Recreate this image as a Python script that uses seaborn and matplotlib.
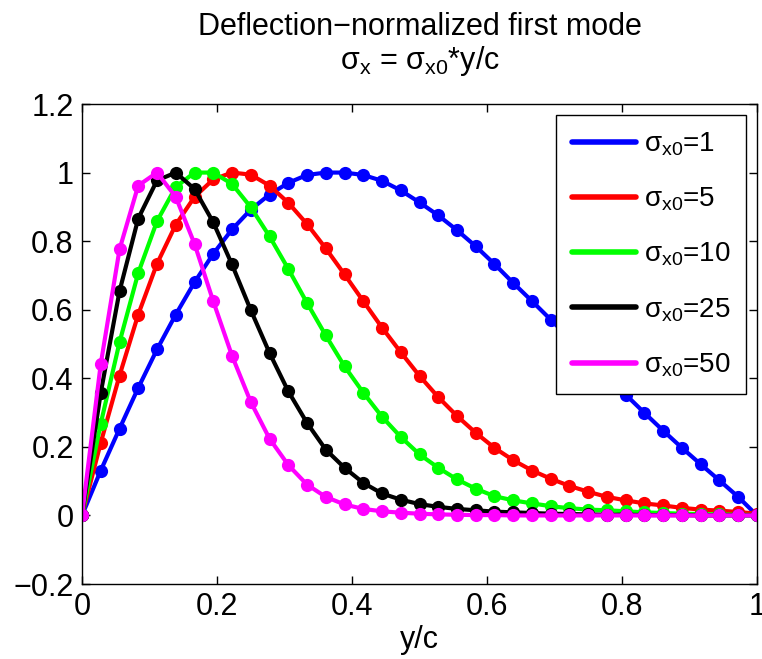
import matplotlib
matplotlib.use("Agg")
import matplotlib.pyplot as plt
import seaborn as sns
import pandas as pd
from matplotlib.ticker import FuncFormatter, MultipleLocator

# ---- data ----
y_c = [0, 0.0278, 0.0556, 0.0833, 0.1111, 0.1389, 0.1667, 0.1944, 0.2222, 0.25,
       0.2778, 0.3056, 0.3333, 0.3611, 0.3889, 0.4167, 0.4444, 0.4722, 0.5, 0.5278,
       0.5556, 0.5833, 0.6111, 0.6389, 0.6667, 0.6944, 0.7222, 0.75, 0.7778, 0.8056,
       0.8333, 0.8611, 0.8889, 0.9167, 0.9444, 0.9722, 1.0]

mode_s1 = [0, 0.131, 0.253, 0.372, 0.484, 0.586, 0.680, 0.763, 0.834, 0.892, 0.936, 0.970,
           0.993, 1.0, 1.0, 0.993, 0.976, 0.948, 0.913, 0.875, 0.832, 0.785, 0.733, 0.678,
           0.625, 0.571, 0.517, 0.462, 0.407, 0.352, 0.299, 0.247, 0.197, 0.149, 0.102, 0.054, 0.0]
mode_s5 = [0, 0.212, 0.408, 0.586, 0.734, 0.848, 0.929, 0.980, 1.0, 0.994, 0.962, 0.912,
           0.850, 0.779, 0.703, 0.625, 0.548, 0.476, 0.407, 0.345, 0.290, 0.241, 0.197, 0.161,
           0.131, 0.107, 0.086, 0.069, 0.054, 0.044, 0.035, 0.029, 0.022, 0.017, 0.014, 0.010, 0.005]
mode_s10 = [0, 0.268, 0.505, 0.707, 0.858, 0.958, 1.0, 1.0, 0.967, 0.899, 0.814, 0.719,
            0.620, 0.525, 0.435, 0.358, 0.288, 0.229, 0.178, 0.139, 0.105, 0.078, 0.056, 0.044,
            0.035, 0.027, 0.021, 0.017, 0.015, 0.012, 0.009, 0.007, 0.005, 0.004, 0.003, 0.002, 0.001]
mode_s25 = [0, 0.358, 0.654, 0.866, 0.977, 1.0, 0.952, 0.855, 0.732, 0.599, 0.474, 0.362,
            0.270, 0.192, 0.139, 0.095, 0.064, 0.046, 0.033, 0.025, 0.019, 0.015, 0.011, 0.009,
            0.007, 0.005, 0.004, 0.003, 0.002, 0.002, 0.001, 0.001, 0.001, 0, 0, 0, 0]
mode_s50 = [0, 0.442, 0.776, 0.962, 1.0, 0.929, 0.792, 0.625, 0.466, 0.331, 0.224, 0.147,
            0.090, 0.054, 0.032, 0.019, 0.012, 0.008, 0.005, 0.003, 0.002, 0.001, 0.001, 0,
            0, 0, 0, 0, 0, 0, 0, 0, 0, 0, 0, 0, 0]

labels = [r"$\sigma_{x0}$=1", r"$\sigma_{x0}$=5", r"$\sigma_{x0}$=10",
          r"$\sigma_{x0}$=25", r"$\sigma_{x0}$=50"]
series = [mode_s1, mode_s5, mode_s10, mode_s25, mode_s50]
colors = ["#0000ff", "#ff0000", "#00ff00", "#000000", "#ff00ff"]
title_lines = ["Deflection\u2212normalized first mode", r"$\sigma_x$ = $\sigma_{x0}$*y/c"]
x_label = "y/c"

# ---- style ----
sns.set_style("ticks")
plt.rcParams["font.family"] = ["Liberation Sans", "DejaVu Sans"]
plt.rcParams["mathtext.fontset"] = "custom"
plt.rcParams["mathtext.rm"] = "Liberation Sans"
plt.rcParams["mathtext.it"] = "Liberation Sans"
plt.rcParams["mathtext.default"] = "regular"
plt.rcParams["axes.unicode_minus"] = True
plt.rcParams["text.color"] = "black"
plt.rcParams["axes.labelcolor"] = "black"

fig = plt.figure(figsize=(7.62, 6.59), dpi=100)
ax = fig.add_axes([82 / 762, 1 - 584 / 659, 675 / 762, 480 / 659])

for lab, vals, col in zip(labels, series, colors):
    df = pd.DataFrame({"y/c": y_c, "v": vals})
    sns.lineplot(data=df, x="y/c", y="v", ax=ax, color=col, linewidth=3,
                 marker="o", markersize=9.5, markeredgewidth=0, label=lab)

ax.set_xlim(0, 1)
ax.set_ylim(-0.2, 1.2)
ax.xaxis.set_major_locator(MultipleLocator(0.2))
ax.yaxis.set_major_locator(MultipleLocator(0.2))
fmt = FuncFormatter(lambda v, p: ("%g" % round(v, 4)).replace("-", "\u2212"))
ax.xaxis.set_major_formatter(fmt)
ax.yaxis.set_major_formatter(fmt)
ax.tick_params(direction="in", length=6, width=1, top=True, right=True,
               labelsize=22, pad=6, colors="black")
for s in ax.spines.values():
    s.set_visible(True)
    s.set_linewidth(1)
    s.set_color("black")

ax.set_xlabel(x_label, fontsize=22, labelpad=2, color="black")
ax.set_ylabel("")
ax.set_title("\n".join(title_lines), fontsize=22, pad=25, linespacing=1.1, color="black")

leg = ax.legend(loc="upper right", bbox_to_anchor=(1, 1), borderaxespad=0.4,
                fontsize=20, frameon=True, fancybox=False, framealpha=1,
                edgecolor="black", handlelength=2.3, handletextpad=0.3,
                labelspacing=1.0, borderpad=0.55)
leg.get_frame().set_linewidth(1)
for t in leg.get_texts():
    t.set_color("black")
for h in leg.legend_handles:
    h.set_marker("")
    h.set_linewidth(4)

fig.savefig("out.png", dpi=100, facecolor="white")
